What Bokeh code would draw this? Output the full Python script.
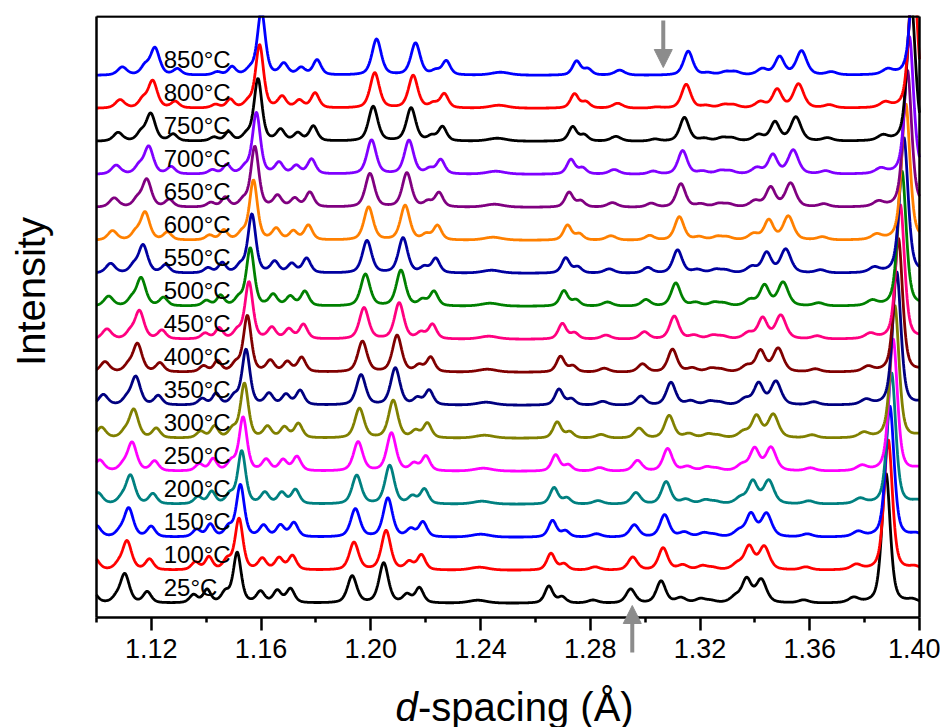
import numpy as np
from bokeh.plotting import figure
from bokeh.models import (Range1d, FixedTicker, NumeralTickFormatter, Arrow, NormalHead, Label,
                          LinearAxis, Grid)
from bokeh.core.properties import value
from bokeh.embed import file_html
from bokeh.resources import INLINE

# ---------------- data ----------------
temperatures = [25, 100, 150, 200, 250, 300, 350, 400, 450, 500, 550, 600, 650, 700, 750, 800, 850]
temp_labels = [f"{t}°C" for t in temperatures]
colors = ["#000000", "#FF0000", "#0000FF", "#008080", "#FF00FF", "#808000", "#000080", "#800000",
          "#FF0080", "#008000", "#0000A0", "#FF8000", "#800080", "#8000FF", "#000000", "#FF0000", "#0000FF"]

# position (d, Å) of the strongest reflection for each temperature
main_peak_d = [1.3878, 1.3886, 1.3892, 1.3898, 1.3904, 1.3910, 1.3917, 1.3923, 1.3930,
               1.3936, 1.3943, 1.3950, 1.3956, 1.3963, 1.3970, 1.3977, 1.3985]

# reflections: d at 25 °C, d at 850 °C, height at 25 °C, height at 850 °C, FWHM (Å)
peak_d_25 = [1.0985, 1.1070, 1.1103, 1.1185, 1.1354, 1.1403, 1.1470, 1.1513, 1.1598, 1.1659,
             1.1707, 1.1932, 1.2047, 1.2132, 1.2177, 1.2390, 1.2649, 1.2697, 1.2810, 1.2947,
             1.3058, 1.3130, 1.3202, 1.3240, 1.3330, 1.3370, 1.3423, 1.3578, 1.3760, 1.3878, 1.3975]
peak_d_850 = [1.1094, 1.1176, 1.1213, 1.1295, 1.1440, 1.1494, 1.1560, 1.1601, 1.1683, 1.1746,
              1.1804, 1.2021, 1.2163, 1.2236, 1.2275, 1.2473, 1.2750, 1.2791, 1.2907, 1.3050,
              1.3157, 1.3230, 1.3293, 1.3329, 1.3427, 1.3490, 1.3570, 1.3679, 1.3884, 1.3985, 1.4080]
peak_h_25 = [12, 4, 29, 11, 8, 13, 10, 50, 11, 12,
             14, 27, 40, 8, 15, 3, 17, 6, 3, 14,
             22, 5, 4, 2, 6, 23, 23, 3, 5, 130, 3]
peak_h_850 = [8, 8, 27, 6, 3, 8, 5, 64, 11, 7,
              15, 36, 32, 4, 14, 3, 14, 6, 5, 0,
              24, 2, 3, 3, 6, 18, 24, 3, 5, 140, 3]
peak_fwhm = [0.0040, 0.0035, 0.0040, 0.0035, 0.0035, 0.0032, 0.0035, 0.0034, 0.0035, 0.0035,
             0.0035, 0.0040, 0.0040, 0.0035, 0.0035, 0.0080, 0.0035, 0.0035, 0.0045, 0.0040,
             0.0040, 0.0045, 0.0045, 0.0045, 0.0045, 0.0040, 0.0045, 0.0045, 0.0045, 0.0036, 0.0045]

curve_step = 33.0  # vertical offset between successive patterns

d_min, d_max = 1.10, 1.40          # plotted d-spacing window
y_min, y_max = -14.0, 587.0        # plotted intensity window
x_ticks = [1.12, 1.16, 1.20, 1.24, 1.28, 1.32, 1.36, 1.40]
x_minor_ticks = [1.10, 1.14, 1.18, 1.22, 1.26, 1.30, 1.34, 1.38]

arrow_d = [1.2953, 1.3066]
arrow_tail = [-49.0, 583.0]
arrow_tip = [-2.0, 536.0]

# ---------------- build the patterns ----------------
x_grid = np.linspace(d_min, d_max, 1800)
d25 = np.array(peak_d_25)
d850 = np.array(peak_d_850)
h25 = np.array(peak_h_25, dtype=float)
h850 = np.array(peak_h_850, dtype=float)
fw = np.array(peak_fwhm)
mp = np.array(main_peak_d)
frac = (mp - mp[0]) / (mp[-1] - mp[0])


def pattern(i):
    pos = d25 + (d850 - d25) * frac[i]
    hh = h25 + (h850 - h25) * frac[i]
    z = (x_grid[:, None] - pos[None, :]) / (fw[None, :] / 2.0)
    shape = 0.5 / (1.0 + z ** 2) + 0.5 * np.exp(-np.log(2.0) * z ** 2)
    return i * curve_step + (shape * hh[None, :]).sum(axis=1)


# ---------------- layout ----------------
FONT = "Liberation Sans"
GRAY = "#8C8C8C"
W, H = 940, 727
BOX_L, BOX_R, BOX_T, BOX_B = 96, 919, 16, 617     # pixel box of the plotting area
TOP_PAD = 15
kx = (BOX_R - BOX_L) / (d_max - d_min)
ky = (BOX_B - BOX_T) / (y_max - y_min)
x_range = Range1d(d_min - BOX_L / kx, d_max + (W - BOX_R) / kx)
y_range = Range1d(y_min - (H - BOX_B) / ky, y_max + (BOX_T - TOP_PAD) / ky)

p = figure(width=W, height=H, output_backend="svg", toolbar_location=None,
           x_range=x_range, y_range=y_range, x_axis_location=None, y_axis_location=None,
           min_border_left=0, min_border_right=0, min_border_top=TOP_PAD, min_border_bottom=0)
p.center = [c for c in p.center if not isinstance(c, Grid)]
p.outline_line_color = None
p.background_fill_color = "white"
p.border_fill_color = "white"

for i in range(len(temperatures)):
    p.line(x_grid, pattern(i), line_color=colors[i], line_width=2.8)

label_d = 1.1245
p.text(x=[label_d] * len(temperatures), y=[i * curve_step + 16 for i in range(len(temperatures))],
       text=temp_labels, text_font=value(FONT), text_font_size="24px",
       text_align="left", text_baseline="alphabetic", text_color="black")

for xd, ys, ye in zip(arrow_d, arrow_tail, arrow_tip):
    p.add_layout(Arrow(end=NormalHead(size=18, fill_color=GRAY, line_color=GRAY),
                       x_start=xd, y_start=ys, x_end=xd, y_end=ye,
                       line_color=GRAY, line_width=4))

# bottom axis with ticks and labels
xa = LinearAxis(fixed_location=y_min, bounds=(d_min, d_max))
xa.ticker = FixedTicker(ticks=x_ticks, minor_ticks=x_minor_ticks)
xa.formatter = NumeralTickFormatter(format="0.00")
xa.major_tick_in = 0
xa.major_tick_out = 13
xa.minor_tick_in = 0
xa.minor_tick_out = 5
xa.axis_line_width = 2.5
xa.major_tick_line_width = 2.5
xa.minor_tick_line_width = 2.5
xa.major_label_text_font = FONT
xa.major_label_text_font_size = "27px"
xa.major_label_text_color = "black"
xa.major_label_standoff = 8
p.add_layout(xa, "below")

# remaining three sides of the box
top = LinearAxis(fixed_location=y_max, bounds=(d_min, d_max),
                 ticker=FixedTicker(ticks=[], minor_ticks=[]), axis_line_width=2.5)
p.add_layout(top, "above")
left = LinearAxis(fixed_location=d_min, bounds=(y_min, y_max),
                  ticker=FixedTicker(ticks=[], minor_ticks=[]), axis_line_width=2.5)
p.add_layout(left, "left")
right = LinearAxis(fixed_location=d_max, bounds=(y_min, y_max),
                   ticker=FixedTicker(ticks=[], minor_ticks=[]), axis_line_width=2.5)
p.add_layout(right, "right")

# axis titles
p.add_layout(Label(x=1.2090, y=-103, text="d", text_font=FONT, text_font_size="40px",
                   text_font_style="italic", text_align="left", text_baseline="alphabetic",
                   text_color="black"))
p.add_layout(Label(x=1.2172, y=-103, text="-spacing (Å)", text_font=FONT, text_font_size="40px",
                   text_align="left", text_baseline="alphabetic", text_color="black"))
p.add_layout(Label(x=1.0763, y=312, text="Intensity", text_font=FONT, text_font_size="40px",
                   angle=np.pi / 2, text_align="center", text_baseline="alphabetic",
                   text_color="black"))

open("out.html", "w").write(file_html(p, INLINE))
